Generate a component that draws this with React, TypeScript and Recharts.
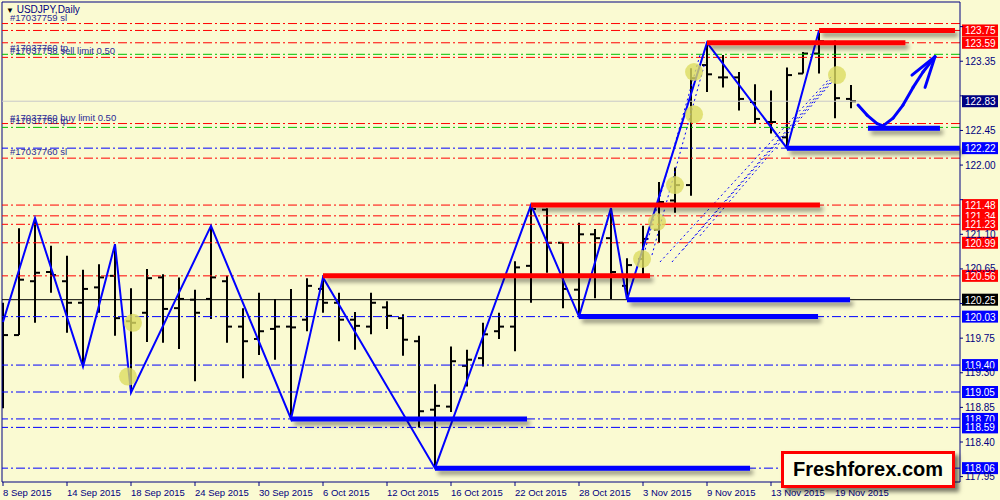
import React from 'react';
import { ComposedChart, XAxis, YAxis, Bar, Line, ReferenceLine, ReferenceDot } from 'recharts';

document.body.style.margin = '0';

const FONT = '"Liberation Sans", Arial, sans-serif';
const NAVY = '#000080';

// x axis labels, one every 4 bars
const dateLabels = ['8 Sep 2015', '14 Sep 2015', '18 Sep 2015', '24 Sep 2015', '30 Sep 2015', '6 Oct 2015', '12 Oct 2015',
    '16 Oct 2015', '22 Oct 2015', '28 Oct 2015', '3 Nov 2015', '9 Nov 2015', '13 Nov 2015', '19 Nov 2015'];

// daily OHLC, 8 Sep .. 20 Nov 2015
const opens = [119.73, 119.79, 120.49, 120.61, 120.49, 120.21, 120.41, 120.56, 119.97, 120.08,
    120.54, 120.14, 120.25, 120.26, 120.49, 119.90, 119.74, 119.87, 119.90, 119.99,
    120.39, 120.21, 119.99, 119.90, 120.15, 120.01, 119.71, 118.82, 118.86, 119.39,
    119.49, 119.84, 119.90, 120.69, 121.42, 120.99, 120.38, 121.10, 121.05, 120.43,
    120.78, 121.16, 121.54, 121.74, 123.30, 123.14, 123.14, 122.82, 122.56, 122.36,
    123.19, 123.45, 123.60, 122.86];
const highs = [120.21, 121.18, 121.31, 120.95, 120.82, 120.64, 120.71, 120.97, 120.40, 120.65,
    120.58, 120.54, 120.38, 121.21, 120.56, 120.14, 120.34, 120.26, 120.39, 120.53,
    120.54, 120.34, 120.09, 120.34, 120.23, 120.06, 119.78, 119.15, 119.64, 119.60,
    119.95, 120.08, 120.75, 121.48, 121.44, 120.99, 121.25, 121.17, 121.44, 120.79,
    121.21, 121.78, 121.97, 123.26, 123.59, 123.43, 123.21, 123.05, 122.97, 123.27,
    123.47, 123.75, 123.62, 123.04];
const lows = [118.84, 119.79, 119.95, 120.34, 119.82, 119.38, 120.08, 119.78, 119.04, 119.70,
    119.69, 119.61, 119.19, 120.00, 119.69, 119.23, 119.53, 119.47, 118.70, 119.84,
    120.08, 119.71, 119.60, 119.80, 119.87, 119.52, 118.59, 118.06, 118.79, 119.12,
    119.38, 119.74, 119.58, 120.21, 120.60, 120.14, 120.03, 120.27, 120.26, 120.25,
    120.57, 120.99, 121.38, 121.60, 122.95, 123.01, 122.71, 122.54, 122.41, 122.22,
    123.19, 123.19, 122.61, 122.74];
const closes = [119.79, 120.51, 120.60, 120.57, 120.21, 120.39, 120.54, 120.01, 119.95, 120.53,
    120.13, 120.26, 120.08, 120.54, 119.90, 119.71, 119.84, 119.90, 119.89, 120.43,
    120.21, 119.99, 119.91, 120.21, 120.04, 119.73, 118.80, 118.87, 119.45, 119.47,
    119.80, 119.90, 120.67, 121.43, 120.99, 120.39, 121.10, 121.05, 120.61, 120.70,
    121.04, 121.52, 121.74, 123.13, 123.18, 123.14, 122.86, 122.60, 122.56, 123.17,
    123.45, 123.61, 122.87, 122.83];

// zigzag turning points
const zigIdx = [0, 2, 5, 7, 8, 13, 18, 20, 27, 33, 36, 38, 39, 44, 49, 51];
const zigVal = [119.96, 121.31, 119.38, 120.97, 119.04, 121.21, 118.70, 120.54, 118.06, 121.48, 120.03, 121.44, 120.25, 123.59, 122.22, 123.75];

const priceTicks = [117.95, 118.40, 118.85, 119.30, 119.75, 120.20, 120.65, 121.10, 121.55, 122.00, 122.45, 122.90, 123.35, 123.80];

// thin dash-dot levels
const redLevels = [123.84, 123.75, 123.59, 123.40, 122.54, 122.09, 121.48, 121.34, 121.23, 120.99, 120.56];
const greenLevels = [123.44, 122.49];
const blueLevels = [122.22, 120.03, 119.40, 119.05, 118.70, 118.59, 118.06];
const blackLevel = 120.25;
const lastPrice = 122.83;
const redTags = [123.75, 123.59, 121.48, 121.34, 121.23, 120.99, 120.56];
const allTags = [...redTags, ...blueLevels, blackLevel, lastPrice];

// order labels written above the lines
const orderPrices = [123.84, 123.40, 123.44, 122.54, 122.49, 122.09];
const orderTexts = ['#17037759 sl', '#17037758 sell limit 0.50', '#17037760 tp', '#17037760 buy limit 0.50', '#17037758 tp', '#17037760 sl'];

// thick levels: from bar, to bar, price
const resistance = [[44, 56.4, 123.59], [51, 59.5, 123.75], [33, 51.06, 121.48], [20, 40.44, 120.56]];
const support = [[39, 52.94, 120.25], [36, 50.94, 120.03], [49, 59.8, 122.22], [18, 32.75, 118.70], [27, 46.69, 118.06], [54.06, 58.56, 122.48]];

// hand drawn arrow
const arrowX = [53.44, 54.0, 54.63, 55.0, 55.63, 56.25, 56.88, 57.5, 58.25];
const arrowY = [122.78, 122.65, 122.54, 122.51, 122.61, 122.78, 123.01, 123.21, 123.41];
const headX = [56.81, 57.63];
const headY = [123.17, 123.01];

// dotted fan lines: x1, y1, x2, y2
const fanLines = [
    [41.06, 120.74, 51.81, 123.16], [41.81, 120.74, 51.81, 123.13], [42.5, 120.90, 51.81, 123.10],
    [43.56, 121.08, 51.81, 123.08], [40.13, 120.90, 43.56, 123.43], [40.56, 120.83, 43.88, 123.34],
];

// trade markers
const markerX = [8.125, 7.81, 39.94, 40.875, 42, 43.19, 43.19, 52.125];
const markerY = [119.95, 119.25, 120.78, 121.26, 121.74, 123.21, 122.66, 123.17];

const xTicks = dateLabels.map((_, k) => k * 4);

const rows = opens.map((o, i) => {
    const z = zigIdx.indexOf(i);
    return { i, o, h: highs[i], l: lows[i], c: closes[i], range: [lows[i], highs[i]], zz: z >= 0 ? zigVal[z] : null };
});

const OhlcBar = (props: any) => {
    const { x, y, width, height, payload } = props;
    const top = Math.min(y, y + height);
    const span = Math.abs(height);
    const cx = Math.round(x + width / 2);
    const k = span / (payload.h - payload.l || 1);
    const yo = top + (payload.h - payload.o) * k;
    const yc = top + (payload.h - payload.c) * k;
    return (
        <g stroke="#000" strokeWidth={2}>
            <line x1={cx} x2={cx} y1={top} y2={top + span} />
            <line x1={cx - 5} x2={cx} y1={yo} y2={yo} />
            <line x1={cx} x2={cx + 5} y1={yc} y2={yc} />
        </g>
    );
};

const DateTick = (props: any) => {
    const { x, y, payload } = props;
    return (
        <text x={x} y={y} dy="0.71em" fill={NAVY} fontSize={9.5} fontFamily={FONT} textAnchor="start">
            {dateLabels[payload.value / 4]}
        </text>
    );
};

// price scale tick, hidden where a coloured tag sits on top of it
const PriceTick = (props: any) => {
    const { x, y, payload } = props;
    if (allTags.some(t => Math.abs(t - payload.value) < 0.09)) return <g />;
    return (
        <text x={x} y={y} dy="0.355em" fill={NAVY} fontSize={10} fontFamily={FONT} textAnchor="start">
            {payload.value.toFixed(2)}
        </text>
    );
};

const tag = (value: number, fill: string) => (props: any) => {
    const { x, y, width } = props.viewBox;
    const left = x + width + 2;
    return (
        <g>
            <rect x={left} y={y - 6} width={36} height={12} fill={fill} />
            <text x={left + 3} y={y + 4} fill="#fff" fontSize={10} fontFamily={FONT}>{value.toFixed(2)}</text>
        </g>
    );
};

const orderLabel = (text: string) => (props: any) => {
    const { x, y } = props.viewBox;
    return <text x={x + 8} y={y - 3} fill="#2a2a96" fontSize={9.5} fontFamily={FONT}>{text}</text>;
};

const dash = '9 3 2 3';

const App: React.FC = () => {
    return (
        <div style={{ position: 'relative', width: 1000, height: 500, background: '#fafad2', overflow: 'hidden' }}>
            <ComposedChart width={1000} height={500} data={rows} margin={{ top: 2, right: 0, bottom: 0, left: 2 }}>
                <defs>
                    <filter id="sh" filterUnits="userSpaceOnUse" x="0" y="0" width="1000" height="500">
                        <feDropShadow dx="3" dy="4" stdDeviation="2" floodColor="#000" floodOpacity="0.4" />
                    </filter>
                </defs>
                <XAxis type="number" dataKey="i" domain={[-0.0625, 59.8125]} allowDataOverflow ticks={xTicks} interval={0}
                    height={18} tickSize={4} tickMargin={3} stroke={NAVY} tick={<DateTick />} />
                <YAxis orientation="right" domain={[117.88, 124.12]} allowDataOverflow ticks={priceTicks} width={40} interval={0}
                    tickSize={3} tickMargin={2} stroke={NAVY} tick={<PriceTick />} />

                <ReferenceLine x={-0.0625} stroke={NAVY} ifOverflow="visible" />
                <ReferenceLine y={124.12} stroke={NAVY} ifOverflow="visible" />
                <ReferenceLine y={lastPrice} stroke="#c8c8c8" label={tag(lastPrice, NAVY)} />
                <ReferenceLine y={blackLevel} stroke="#000" label={tag(blackLevel, '#000')} />
                {redLevels.map(p => (
                    <ReferenceLine key={'r' + p} y={p} stroke="#ff0000" strokeDasharray={dash}
                        label={redTags.includes(p) ? tag(p, '#ff0000') : undefined} />
                ))}
                {greenLevels.map(p => (
                    <ReferenceLine key={'g' + p} y={p} stroke="#00c000" strokeDasharray={dash} />
                ))}
                {blueLevels.map(p => (
                    <ReferenceLine key={'b' + p} y={p} stroke="#0000ff" strokeDasharray={dash} label={tag(p, '#0000ff')} />
                ))}
                {orderPrices.map((p, k) => (
                    <ReferenceLine key={'o' + k} y={p} stroke="none" label={orderLabel(orderTexts[k])} />
                ))}

                <Bar dataKey="range" barSize={8} shape={<OhlcBar />} isAnimationActive={false} />

                {fanLines.map((f, k) => (
                    <ReferenceLine key={'f' + k} segment={[{ x: f[0], y: f[1] }, { x: f[2], y: f[3] }]}
                        stroke="#0000ff" strokeDasharray="2 3" ifOverflow="visible" />
                ))}

                <Line dataKey="zz" type="linear" connectNulls stroke="#0000ff" strokeWidth={2} dot={false} isAnimationActive={false} />

                {resistance.map((s, k) => (
                    <ReferenceLine key={'rs' + k} segment={[{ x: s[0], y: s[2] }, { x: s[1], y: s[2] }]}
                        stroke="#ff0000" strokeWidth={5} filter="url(#sh)" ifOverflow="visible" />
                ))}
                {support.map((s, k) => (
                    <ReferenceLine key={'sp' + k} segment={[{ x: s[0], y: s[2] }, { x: s[1], y: s[2] }]}
                        stroke="#0000ff" strokeWidth={5} filter="url(#sh)" ifOverflow="visible" />
                ))}

                {arrowX.slice(1).map((x2, k) => (
                    <ReferenceLine key={'a' + k} segment={[{ x: arrowX[k], y: arrowY[k] }, { x: x2, y: arrowY[k + 1] }]}
                        stroke="#0000ff" strokeWidth={3} strokeLinecap="round" ifOverflow="visible" />
                ))}
                {headX.map((hx, k) => (
                    <ReferenceLine key={'h' + k} segment={[{ x: hx, y: headY[k] }, { x: arrowX[8], y: arrowY[8] }]}
                        stroke="#0000ff" strokeWidth={3} strokeLinecap="round" ifOverflow="visible" />
                ))}

                {markerX.map((mx, k) => (
                    <ReferenceDot key={'m' + k} x={mx} y={markerY[k]} r={9} fill="#dcdc62" fillOpacity={0.8} stroke="none" />
                ))}
            </ComposedChart>

            <div style={{ position: 'absolute', left: 6, top: 4, fontFamily: FONT, fontSize: 10, color: NAVY }}>
                <span style={{ color: '#000', fontSize: 8 }}>▼</span> USDJPY,Daily
            </div>

            <div style={{
                position: 'absolute', left: 781, top: 451, width: 168, height: 31, border: '3px solid #ff0000',
                background: '#ffffe6', boxShadow: '4px 4px 4px rgba(0,0,0,0.5)', fontFamily: FONT, fontWeight: 'bold',
                fontSize: 20, lineHeight: '31px', textAlign: 'center', color: '#000',
            }}>
                Freshforex.com
            </div>
        </div>
    );
};

export default App;
